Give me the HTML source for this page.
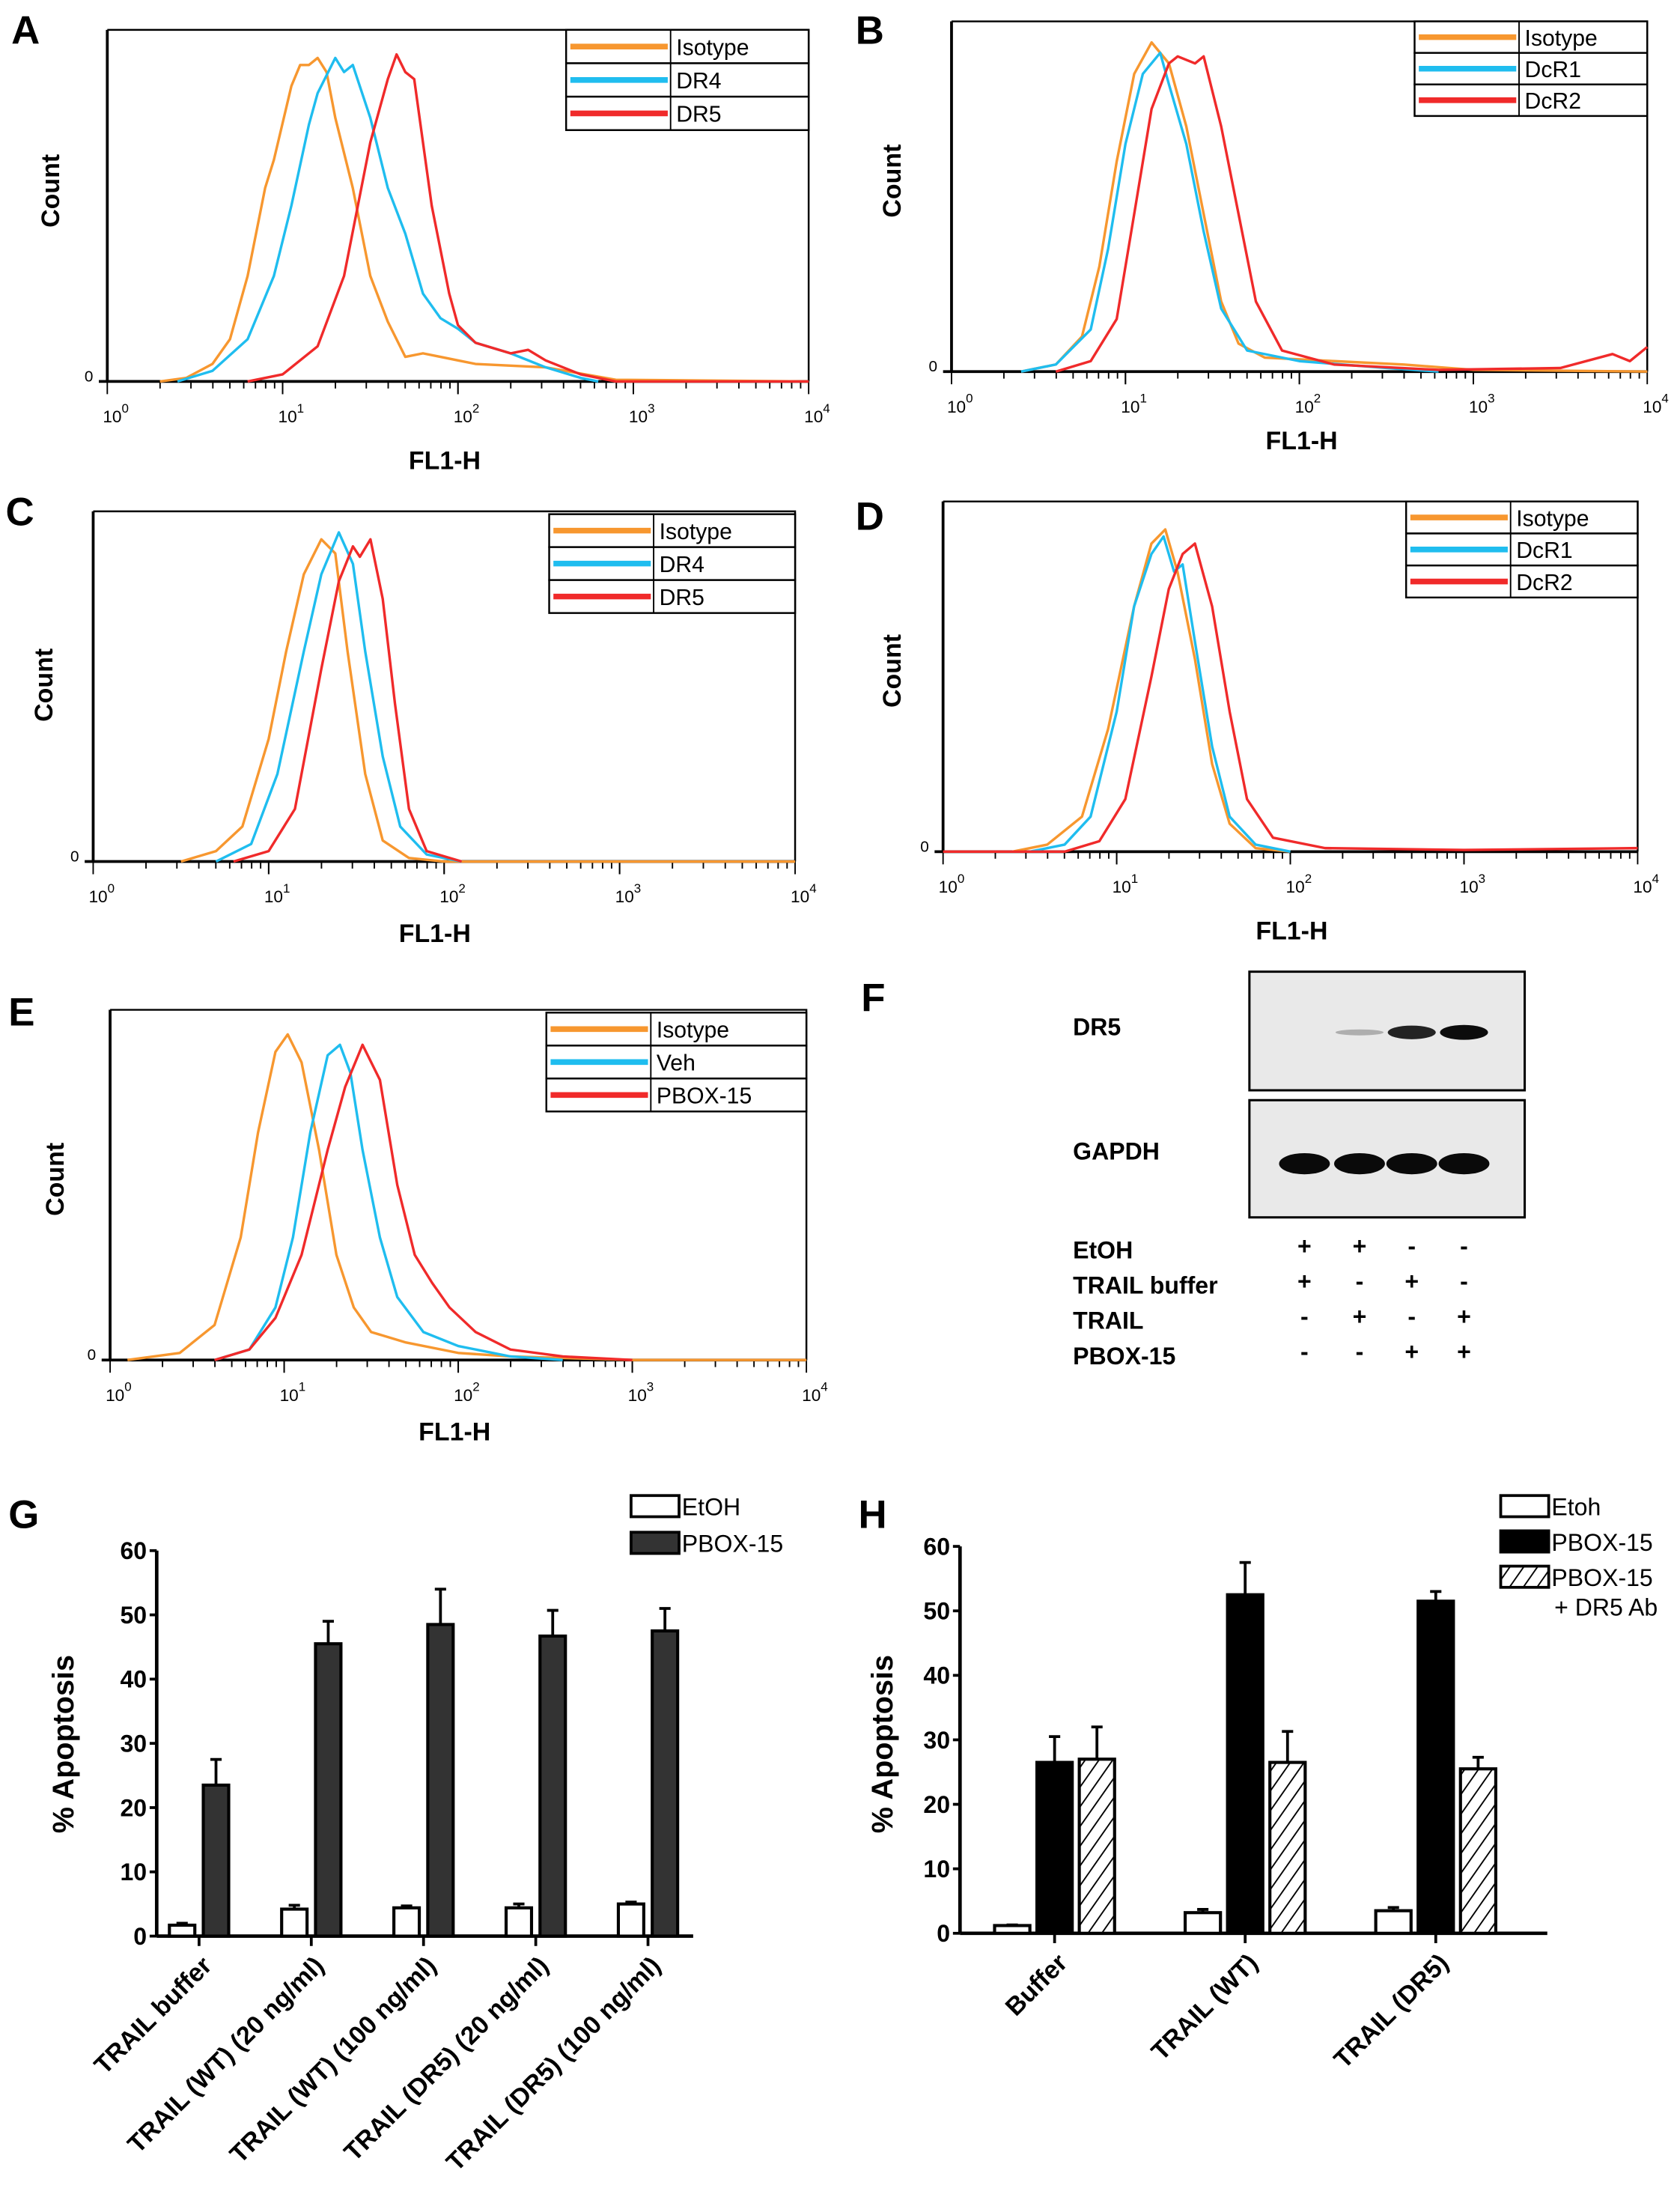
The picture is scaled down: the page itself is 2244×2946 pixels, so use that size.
<!DOCTYPE html>
<html><head><meta charset="utf-8"><style>
html,body{margin:0;padding:0;background:#fff;}
svg{display:block;font-family:"Liberation Sans",Arial,sans-serif;}
</style></head><body>
<svg id="fig" width="2244" height="2946" viewBox="0 0 1190 1562" xmlns="http://www.w3.org/2000/svg">
<defs>
<pattern id="hatch" width="8" height="8" patternUnits="userSpaceOnUse" patternTransform="rotate(35)">
<rect width="8" height="8" fill="#fff"/><line x1="0" y1="0" x2="0" y2="8" stroke="#000" stroke-width="2"/>
</pattern>
</defs>
</svg>
<script>
const NS="http://www.w3.org/2000/svg";
const svg=document.getElementById('fig');
function el(tag,attrs,parent,text){const e=document.createElementNS(NS,tag);for(const k in attrs)e.setAttribute(k,attrs[k]);if(text!==undefined)e.textContent=text;(parent||svg).appendChild(e);return e;}

// ---------- Histogram data (log10 FL1-H, fraction of height) ----------
const aIsoX=[0.3,0.45,0.6,0.7,0.8,0.9,0.95,1.05,1.1,1.15,1.2,1.25,1.3,1.4,1.5,1.6,1.7,1.8,1.9,2.0,2.1,2.5,2.9,4];
const aIsoY=[0,0.01,0.05,0.12,0.3,0.55,0.63,0.84,0.9,0.9,0.92,0.88,0.75,0.55,0.3,0.17,0.07,0.08,0.07,0.06,0.05,0.04,0.005,0];
const aDR4X=[0.4,0.6,0.8,0.95,1.05,1.15,1.2,1.3,1.35,1.4,1.5,1.6,1.7,1.8,1.9,2.0,2.1,2.3,2.5,2.7,2.8];
const aDR4Y=[0,0.03,0.12,0.3,0.5,0.73,0.82,0.92,0.88,0.9,0.75,0.55,0.42,0.25,0.18,0.15,0.11,0.08,0.04,0.01,0];
const aDR5X=[0.8,1.0,1.2,1.35,1.5,1.6,1.65,1.7,1.75,1.85,1.95,2.0,2.1,2.3,2.4,2.5,2.7,2.9,4];
const aDR5Y=[0,0.02,0.1,0.3,0.68,0.86,0.93,0.88,0.86,0.5,0.25,0.16,0.11,0.08,0.09,0.06,0.02,0,0];

const bIsoX=[0.4,0.6,0.75,0.85,0.95,1.05,1.15,1.25,1.35,1.45,1.55,1.65,1.8,2.2,2.6,3.0,4];
const bIsoY=[0,0.02,0.1,0.3,0.6,0.85,0.94,0.88,0.7,0.45,0.2,0.08,0.04,0.03,0.02,0.005,0];
const bDcR1X=[0.4,0.6,0.8,0.9,1.0,1.1,1.2,1.25,1.35,1.45,1.55,1.7,2.0,2.5,2.8];
const bDcR1Y=[0,0.02,0.12,0.35,0.65,0.85,0.91,0.82,0.65,0.4,0.18,0.06,0.03,0.01,0];
const bDcR2X=[0.6,0.8,0.95,1.05,1.15,1.25,1.3,1.4,1.45,1.55,1.65,1.75,1.9,2.2,2.8,3.5,3.8,3.9,4];
const bDcR2Y=[0,0.03,0.15,0.45,0.75,0.88,0.9,0.88,0.9,0.7,0.45,0.2,0.06,0.02,0.005,0.01,0.05,0.03,0.07];

const cIsoX=[0.5,0.7,0.85,1.0,1.1,1.2,1.3,1.38,1.45,1.55,1.65,1.8,2.0,4];
const cIsoY=[0,0.03,0.1,0.35,0.6,0.82,0.92,0.88,0.6,0.25,0.06,0.01,0,0];
const cDR4X=[0.7,0.9,1.05,1.2,1.3,1.4,1.48,1.55,1.65,1.75,1.9,2.1];
const cDR4Y=[0,0.05,0.25,0.6,0.82,0.94,0.85,0.6,0.3,0.1,0.02,0];
const cDR5X=[0.8,1.0,1.15,1.3,1.4,1.48,1.52,1.58,1.65,1.72,1.8,1.9,2.1];
const cDR5Y=[0,0.03,0.15,0.55,0.8,0.9,0.87,0.92,0.75,0.45,0.15,0.03,0];

const dIsoX=[0.4,0.6,0.8,0.95,1.1,1.2,1.28,1.35,1.45,1.55,1.65,1.8,2.0];
const dIsoY=[0,0.02,0.1,0.35,0.7,0.88,0.92,0.8,0.55,0.25,0.08,0.01,0];
const dDcR1X=[0.5,0.7,0.85,1.0,1.1,1.2,1.27,1.33,1.38,1.45,1.55,1.65,1.8,2.0];
const dDcR1Y=[0,0.02,0.1,0.4,0.7,0.85,0.9,0.8,0.82,0.6,0.3,0.1,0.02,0];
const dDcR2X=[0.0,0.7,0.9,1.05,1.2,1.3,1.38,1.45,1.55,1.65,1.75,1.9,2.2,3.0,4];
const dDcR2Y=[0,0,0.03,0.15,0.5,0.75,0.85,0.88,0.7,0.4,0.15,0.04,0.01,0.005,0.01];

const eIsoX=[0.1,0.4,0.6,0.75,0.85,0.95,1.02,1.1,1.2,1.3,1.4,1.5,1.7,2.0,2.3,3.0,4];
const eIsoY=[0,0.02,0.1,0.35,0.65,0.88,0.93,0.85,0.6,0.3,0.15,0.08,0.05,0.02,0.01,0,0];
const eVehX=[0.6,0.8,0.95,1.05,1.15,1.25,1.32,1.38,1.45,1.55,1.65,1.8,2.0,2.3,2.6];
const eVehY=[0,0.03,0.15,0.35,0.65,0.87,0.9,0.82,0.6,0.35,0.18,0.08,0.04,0.01,0];
const ePbX=[0.6,0.8,0.95,1.1,1.25,1.35,1.45,1.55,1.65,1.75,1.85,1.95,2.1,2.3,2.6,3.0];
const ePbY=[0,0.03,0.12,0.3,0.6,0.78,0.9,0.8,0.5,0.3,0.22,0.15,0.08,0.03,0.01,0];

const ORANGE="#f7972f", BLUE="#1fbdef", RED="#f02a2a";

function histPanel(p){
  const g=el('g',{});
  
  
  const xS=v=>p.x0+v*p.dec, yS=f=>p.base-f*(p.base-p.top);
  const x4=xS(4);
  const fr=el('path',{d:`M${p.x0} ${p.top}H${x4}V${p.base}`,fill:'none',stroke:'#000','stroke-width':1.3},g);
  
  const ya=el('line',{x1:p.x0,y1:p.top,x2:p.x0,y2:p.base,stroke:'#000','stroke-width':2},g);
  
  const xa=el('line',{x1:p.x0-6,y1:p.base,x2:x4,y2:p.base,stroke:'#000','stroke-width':2},g);
  
  for(let d=0;d<4;d++){for(let m=1;m<=10;m++){const v=d+Math.log10(m);const x=xS(v);const major=(m===1||m===10);
    el('line',{x1:x,y1:p.base,x2:x,y2:p.base+(major?9:5),stroke:'#000','stroke-width':1},g);}}
  for(let d=0;d<=4;d++){const t=el('text',{x:xS(d)+6,y:p.base+29,'font-size':12,'text-anchor':'middle'},g);
    
    t.innerHTML='10<tspan dy="-7" font-size="9">'+d+'</tspan>';}
  const z=el('text',{x:p.x0-10,y:p.base,'font-size':11,'text-anchor':'end'},g,'0');
  
  p.series.forEach(s=>{
    const pts=s.x.map((v,i)=>xS(v).toFixed(1)+','+yS(s.y[i]).toFixed(1)).join(' ');
    const pl=el('polyline',{points:pts,fill:'none',stroke:s.c,'stroke-width':1.8,'stroke-linejoin':'round'},g);
    
  });
  const lg=el('g',{},g);
  const lh=(p.lb-p.lt)/3;
  p.series.forEach((s,i)=>{
    const y=p.lt+i*lh;
    const r=el('rect',{x:p.lx,y:y,width:x4-p.lx,height:lh,fill:'#fff',stroke:'#000','stroke-width':1.3},lg);
    
    el('line',{x1:p.lx+74,y1:y,x2:p.lx+74,y2:y+lh,stroke:'#000','stroke-width':1},lg);
    el('line',{x1:p.lx+3,y1:y+lh/2,x2:p.lx+72,y2:y+lh/2,stroke:s.c,'stroke-width':4},lg);
    const t=el('text',{x:p.lx+78,y:y+lh/2+6,'font-size':16},lg,s.n);
    
  });
  const yl=el('text',{x:0,y:0,'font-size':18,'font-weight':'bold','text-anchor':'middle',transform:`translate(${p.cx},${p.cy}) rotate(-90)`},g,'Count');
  
  const xl=el('text',{x:p.fx,y:p.fy,'font-size':18,'font-weight':'bold','text-anchor':'middle'},g,'FL1-H');
  
  const L=el('text',{x:p.Lx,y:p.Ly,'font-size':28,'font-weight':'bold'},g,p.id);
  
}

histPanel({id:'A',x0:76,dec:124.2,top:21,base:270,lx:401,lt:21,lb:92,cx:42,cy:135,fx:315,fy:332,Lx:8,Ly:31,
 series:[{n:'Isotype',c:ORANGE,x:aIsoX,y:aIsoY},{n:'DR4',c:BLUE,x:aDR4X,y:aDR4Y},{n:'DR5',c:RED,x:aDR5X,y:aDR5Y}]});
histPanel({id:'B',x0:674,dec:123.2,top:15,base:263,lx:1002,lt:15,lb:82,cx:638,cy:128,fx:922,fy:318,Lx:606,Ly:31,
 series:[{n:'Isotype',c:ORANGE,x:bIsoX,y:bIsoY},{n:'DcR1',c:BLUE,x:bDcR1X,y:bDcR1Y},{n:'DcR2',c:RED,x:bDcR2X,y:bDcR2Y}]});
histPanel({id:'C',x0:66,dec:124.3,top:362,base:610,lx:389,lt:364,lb:434,cx:37,cy:485,fx:308,fy:667,Lx:4,Ly:372,
 series:[{n:'Isotype',c:ORANGE,x:cIsoX,y:cIsoY},{n:'DR4',c:BLUE,x:cDR4X,y:cDR4Y},{n:'DR5',c:RED,x:cDR5X,y:cDR5Y}]});
histPanel({id:'D',x0:668,dec:123,top:355,base:603,lx:996,lt:355,lb:423,cx:638,cy:475,fx:915,fy:665,Lx:606,Ly:375,
 series:[{n:'Isotype',c:ORANGE,x:dIsoX,y:dIsoY},{n:'DcR1',c:BLUE,x:dDcR1X,y:dDcR1Y},{n:'DcR2',c:RED,x:dDcR2X,y:dDcR2Y}]});
histPanel({id:'E',x0:78,dec:123.3,top:715,base:963,lx:387,lt:717,lb:787,cx:45,cy:835,fx:322,fy:1020,Lx:6,Ly:726,
 series:[{n:'Isotype',c:ORANGE,x:eIsoX,y:eIsoY},{n:'Veh',c:BLUE,x:eVehX,y:eVehY},{n:'PBOX-15',c:RED,x:ePbX,y:ePbY}]});

// ---------- Panel F: western blot ----------
(function(){
  const g=el('g',{});
  const L=el('text',{x:610,y:716,'font-size':28,'font-weight':'bold'},g,'F');
  
  const laneX=[924,963,1000,1037];
  const dr5Int=[0,0.25,0.85,0.95];
  [[688,772,'DR5',727],[779,862,'GAPDH',815]].forEach((b,bi)=>{
    const r=el('rect',{x:885,y:b[0],width:195,height:b[1]-b[0],fill:'#e9e9e9',stroke:'#000','stroke-width':1.6},g);
    
    const t=el('text',{x:760,y:b[3]+6,'font-size':17,'font-weight':'bold'},g,b[2]);
    
  });
  laneX.forEach((x,i)=>{
    if(dr5Int[i]>0){const e=el('ellipse',{cx:x,cy:731,rx:17,ry:dr5Int[i]*4.5+1,fill:'#000','fill-opacity':dr5Int[i]},g);
      }
    const e2=el('ellipse',{cx:x,cy:824,rx:18,ry:7.5,fill:'#0a0a0a'},g);
    
  });
  const rows=['EtOH','TRAIL buffer','TRAIL','PBOX-15'];
  const signs=[['+','+','-','-'],['+','-','+','-'],['-','+','-','+'],['-','-','+','+']];
  rows.forEach((r,i)=>{
    const y=891+i*25;
    const t=el('text',{x:760,y:y,'font-size':17,'font-weight':'bold'},g,r);
    
    signs[i].forEach((s,j)=>{const st=el('text',{x:laneX[j],y:y-3,'font-size':17,'font-weight':'bold','text-anchor':'middle'},g,s);
      });
  });
})();

// ---------- Panel G ----------
const gCats=['TRAIL buffer','TRAIL (WT) (20 ng/ml)','TRAIL (WT)  (100 ng/ml)','TRAIL (DR5) (20 ng/ml)','TRAIL (DR5) (100 ng/ml)'];
const gEtoh=[1.7,4.2,4.4,4.4,5.0];
const gEtohErr=[0.3,0.6,0.3,0.6,0.3];
const gPbox=[23.5,45.5,48.5,46.7,47.5];
const gPboxErr=[4.0,3.5,5.5,4.0,3.5];
const gTicks=[0,10,20,30,40,50,60];

// ---------- Panel H ----------
const hCats=['Buffer','TRAIL (WT)','TRAIL (DR5)'];
const hEtoh=[1.2,3.2,3.5];
const hEtohErr=[0.1,0.5,0.5];
const hPbox=[26.5,52.5,51.5];
const hPboxErr=[4.0,5.0,1.5];
const hAb=[27,26.5,25.5];
const hAbErr=[5.0,4.8,1.8];
const hTicks=[0,10,20,30,40,50,60];

function barPanel(p){
  const g=el('g',{});
  const yS=v=>p.y0-v*(p.y0-p.y60)/60;
  const L=el('text',{x:p.Lx,y:p.Ly,'font-size':28,'font-weight':'bold'},g,p.id);
  
  const ya=el('line',{x1:p.ax,y1:p.y60,x2:p.ax,y2:p.y0,stroke:'#000','stroke-width':2.5},g);
  
  const xa=el('line',{x1:p.ax,y1:p.y0,x2:p.axEnd,y2:p.y0,stroke:'#000','stroke-width':2.5},g);
  
  p.ticks.forEach(t=>{const y=yS(t);el('line',{x1:p.ax-5,y1:y,x2:p.ax,y2:y,stroke:'#000','stroke-width':2},g);
    const tl=el('text',{x:p.ax-7,y:y+6,'font-size':17,'font-weight':'bold','text-anchor':'end'},g,String(t));
    });
  const yl=el('text',{x:0,y:0,'font-size':21,'font-weight':'bold','text-anchor':'middle',transform:`translate(${p.ylx},${p.yly}) rotate(-90)`},g,'% Apoptosis');
  
  p.cats.forEach((c,i)=>{
    const cx=p.c0+i*p.step;
    el('line',{x1:cx,y1:p.y0,x2:cx,y2:p.y0+7,stroke:'#000','stroke-width':2},g);
    p.series.forEach((s,j)=>{
      const bx=cx+p.offs[j]-p.bw/2, v=s.v[i], top=yS(v);
      const e=s.e[i];
      const eb=el('path',{d:`M${bx+p.bw/2} ${top}V${yS(v+e)}M${bx+p.bw/2-4} ${yS(v+e)}H${bx+p.bw/2+4}`,stroke:'#000','stroke-width':2,fill:'none'},g);
      
      const r=el('rect',{x:bx,y:top,width:p.bw,height:p.y0-top,fill:s.fill,stroke:'#000','stroke-width':2.2},g);
      
    });
    const t=el('text',{x:0,y:0,'font-size':18,'font-weight':'bold','text-anchor':'end',transform:`translate(${cx+p.lblDx},${p.y0+22}) rotate(-45)`},g,c);
    
  });
  p.series.forEach((s,j)=>{
    const y=p.legY+j*p.legStep;
    const r=el('rect',{x:p.legX,y:y,width:34,height:15,fill:s.fill,stroke:'#000','stroke-width':2},g);
    
    const t=el('text',{x:p.legX+36,y:y+14,'font-size':17},g,s.label);
    
    if(s.label2){const t2=el('text',{x:p.legX+38,y:y+35,'font-size':17},g,s.label2);
      }
  });
}

barPanel({id:'G',Lx:6,Ly:1082,ax:111,axEnd:491,y0:1371,y60:1098,ticks:gTicks,ylx:52,yly:1235,cats:gCats,c0:141,step:79.5,
  bw:18,offs:[-12,12],lblDx:10,legX:447,legY:1059,legStep:26,
  series:[{key:'etoh',label:'EtOH',v:gEtoh,e:gEtohErr,fill:'#fff'},{key:'pbox15',label:'PBOX-15',v:gPbox,e:gPboxErr,fill:'#333'}]});
barPanel({id:'H',Lx:608,Ly:1082,ax:680,axEnd:1096,y0:1369,y60:1095,ticks:hTicks,ylx:632,yly:1235,cats:hCats,c0:747,step:135,
  bw:25,offs:[-30,0,30],lblDx:10,legX:1063,legY:1059,legStep:25,
  series:[{key:'etoh',label:'Etoh',v:hEtoh,e:hEtohErr,fill:'#fff'},{key:'pbox15',label:'PBOX-15',v:hPbox,e:hPboxErr,fill:'#000'},
          {key:'pbox15-dr5ab',label:'PBOX-15',label2:'+ DR5 Ab',v:hAb,e:hAbErr,fill:'url(#hatch)'}]});
</script>
</body></html>
